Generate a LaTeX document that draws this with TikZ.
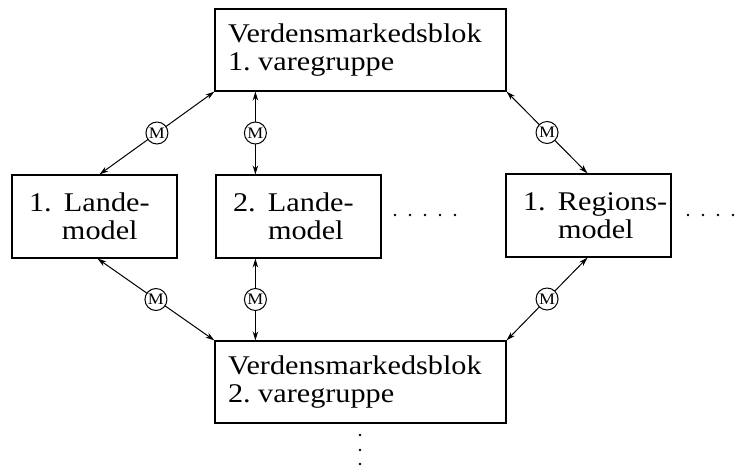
\documentclass[tikz,border=0pt]{standalone}
\usepackage{fontspec}
\setmainfont{Liberation Serif}[FakeStretch=1.12]
\usetikzlibrary{arrows.meta,calc}

\tikzset{
  blokbox/.style={draw, line width=1.2pt, inner ysep=0pt, inner xsep=13pt,
    minimum width=291pt, minimum height=82pt, align=left,
    font=\fontsize{27}{28}\selectfont},
  modelbox/.style={draw, line width=1.2pt, inner ysep=0pt, inner xsep=17pt,
    minimum width=165pt, minimum height=83pt, align=left,
    font=\fontsize{27}{27.5}\selectfont},
  conn/.style={line width=1pt,
    {Stealth[length=9pt,width=5.5pt]}-{Stealth[length=9pt,width=5.5pt]}},
  mnode/.style={circle, draw, line width=1pt, fill=white, minimum size=22pt,
    inner sep=0pt, font=\fontsize{16}{16}\selectfont},
  pdot/.style={fill=black, draw=none, circle, minimum size=2.6pt, inner sep=0pt}
}

% one text line of fixed width, flush left
\newcommand{\bline}[2]{\makebox[#1][l]{#2}}
% numbered model label: number, then the name, second line under the name
\newcommand{\nrlabel}[3]{\bline{131pt}{\makebox[35pt][l]{#1}#2}\\\bline{131pt}{\hspace*{35pt}#3}}

\begin{document}
\begin{tikzpicture}[x=1pt,y=-1pt]
  \useasboundingbox[fill=white] (0,0) rectangle (742,466);

  % world market blocks
  \node[blokbox] (top) at (360.5,50) {\bline{265pt}{Verdensmarkedsblok}\\\bline{265pt}{1.\ varegruppe}};
  \node[blokbox] (bot) at (360.5,382) {\bline{265pt}{Verdensmarkedsblok}\\\bline{265pt}{2.\ varegruppe}};

  % country and region models
  \node[modelbox] (l1) at (94.5,216.5) {\nrlabel{1.}{Lande-}{\hspace*{-2pt}model}};
  \node[modelbox] (l2) at (298.5,216.5) {\nrlabel{2.}{Lande-}{model}};
  \node[modelbox] (r1) at (588.5,215.5) {\nrlabel{1.}{Regions-}{model}};

  % connection points
  \coordinate (l1n) at ([xshift=5pt]l1.north);
  \coordinate (l1s) at ([xshift=3pt]l1.south);
  \coordinate (l2n) at ([xshift=40pt]l2.north west);
  \coordinate (l2s) at ([xshift=40pt]l2.south west);
  \coordinate (r1n) at ([xshift=-1pt]r1.north);
  \coordinate (r1s) at ([xshift=-1pt]r1.south);

  % exchange links with M markers
  \draw[conn] (top.south west) -- (l1n) node[mnode, midway] (m1) {M};
  \draw[conn] (top.south -| l2n) -- (l2n) node[mnode, midway] (m2) {M};
  \draw[conn] (top.south east) -- (r1n) node[mnode, midway] (m3) {M};
  \draw[conn] (l1s) -- (bot.north west) node[mnode, midway] (m4) {M};
  \draw[conn] (l2s) -- (bot.north -| l2s) node[mnode, midway] (m5) {M};
  \draw[conn] (r1s) -- (bot.north east) node[mnode, midway] (m6) {M};

  % continuation dots
  \foreach \x in {395,410,425,440,455} \node[pdot] at (\x,215) {};
  \foreach \x in {688,703,718,733} \node[pdot] at (\x,215) {};
  \foreach \y in {435,450,464} \node[pdot] at (360,\y) {};
\end{tikzpicture}
\end{document}
